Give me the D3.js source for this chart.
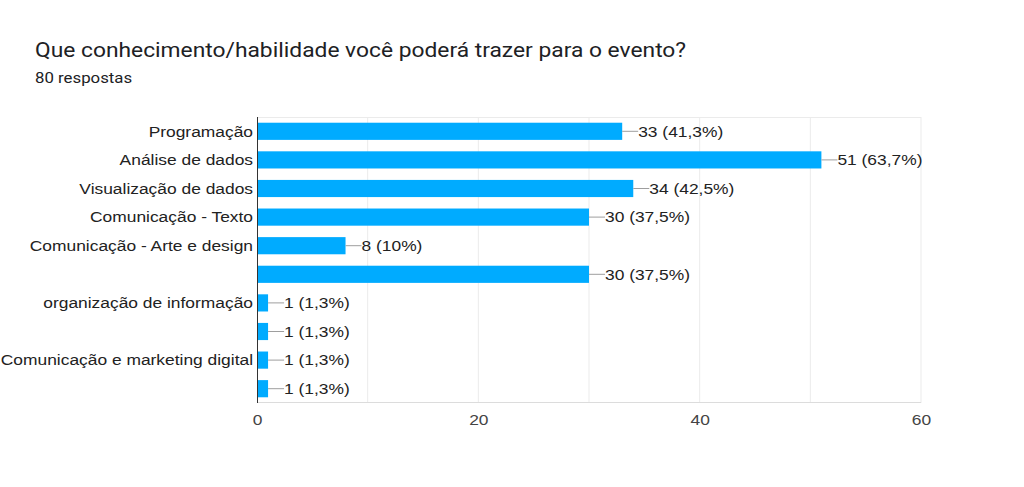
<!DOCTYPE html>
<html><head><meta charset="utf-8">
<script src="https://cdn.jsdelivr.net/npm/d3@7"></script>
<style>body{margin:0;background:#fff;font-family:Roboto,Arial,sans-serif}</style>
</head><body><svg id="c" width="1024" height="487"></svg>
<script>
const categories = ["Programação","Análise de dados","Visualização de dados","Comunicação - Texto","Comunicação - Arte e design","","organização de informação","","Comunicação e marketing digital",""];
const counts = [33,51,34,30,8,30,1,1,1,1];
const percents = ["41,3%","63,7%","42,5%","37,5%","10%","37,5%","1,3%","1,3%","1,3%","1,3%"];
const xTicks = [0,20,40,60];
const gridTicks = [0,10,20,30,40,50,60];
const title = "Que conhecimento/habilidade você poderá trazer para o evento?";
const subtitle = "80 respostas";

const SX = 1.2; // horizontal stretch of text seen in the reference
const LF = "'Liberation Sans',Arial,sans-serif";
const svg = d3.select("#c");
svg.append("rect").attr("width",1024).attr("height",487).attr("fill","#fff");
svg.append("text").attr("transform","translate(35,57) scale(1.14,1)").attr("font-size",20)
  .attr("font-family","Roboto,sans-serif").attr("fill","#202124").text(title);
svg.append("text").attr("transform",`translate(35,83) scale(${SX},1)`).attr("font-size",14)
  .attr("font-family","Roboto,sans-serif").attr("fill","#202124").text(subtitle);

const L=257,R=921,T=117,B=403;
const x = d3.scaleLinear().domain([0,60]).range([L,R]);
const idx = categories.map((d,i)=>i);
const y = d3.scaleBand().domain(idx).range([T,B]).paddingInner(0.4).paddingOuter(0.2);
const yc = i => y(i)+y.bandwidth()/2;

// grid
svg.append("g").selectAll("line").data(gridTicks.slice(1)).join("line")
  .attr("x1",d=>x(d)).attr("x2",d=>x(d)).attr("y1",T).attr("y2",B)
  .attr("stroke","#ebebeb").attr("stroke-width",1);
svg.append("line").attr("x1",L).attr("x2",R).attr("y1",T+0.5).attr("y2",T+0.5).attr("stroke","#ebebeb");
svg.append("line").attr("x1",L).attr("x2",R).attr("y1",B-0.5).attr("y2",B-0.5).attr("stroke","#dcdcdc");

// bars
svg.append("g").selectAll("rect").data(idx).join("rect")
  .attr("x",x(0)).attr("y",i=>y(i)).attr("width",i=>x(counts[i])-x(0)).attr("height",y.bandwidth())
  .attr("fill","#00abff");

// connectors and value labels
const g = svg.append("g");
g.selectAll("line").data(idx).join("line")
  .attr("x1",i=>x(counts[i])).attr("x2",i=>x(counts[i])+16)
  .attr("y1",yc).attr("y2",yc)
  .attr("stroke","#9e9e9e").attr("stroke-width",1);
g.selectAll("text").data(idx).join("text")
  .attr("transform",i=>`translate(${x(counts[i])+16},${yc(i)}) scale(${SX},1)`).attr("dy","0.36em")
  .attr("font-size",14.5).attr("font-family",LF).attr("fill","#222").text(i=>`${counts[i]} (${percents[i]})`);

// category labels
svg.append("g").selectAll("text").data(idx).join("text")
  .attr("transform",i=>`translate(${L-4},${yc(i)}) scale(${SX},1)`).attr("dy","0.36em").attr("text-anchor","end")
  .attr("font-size",14.5).attr("font-family",LF).attr("fill","#222").text(i=>categories[i]);

// zero axis
svg.append("line").attr("x1",L+0.5).attr("x2",L+0.5).attr("y1",T).attr("y2",B).attr("stroke","#333").attr("stroke-width",1);

// x axis labels
const ax = svg.append("g").attr("transform",`translate(0,${B})`)
  .call(d3.axisBottom(x).tickValues(xTicks).tickSize(0).tickPadding(12).tickFormat(d3.format("d")));
ax.select(".domain").remove();
ax.selectAll("text").attr("font-size",14.5).attr("fill","#444").attr("font-family",LF)
  .attr("transform",`scale(${SX},1)`);
</script></body></html>
